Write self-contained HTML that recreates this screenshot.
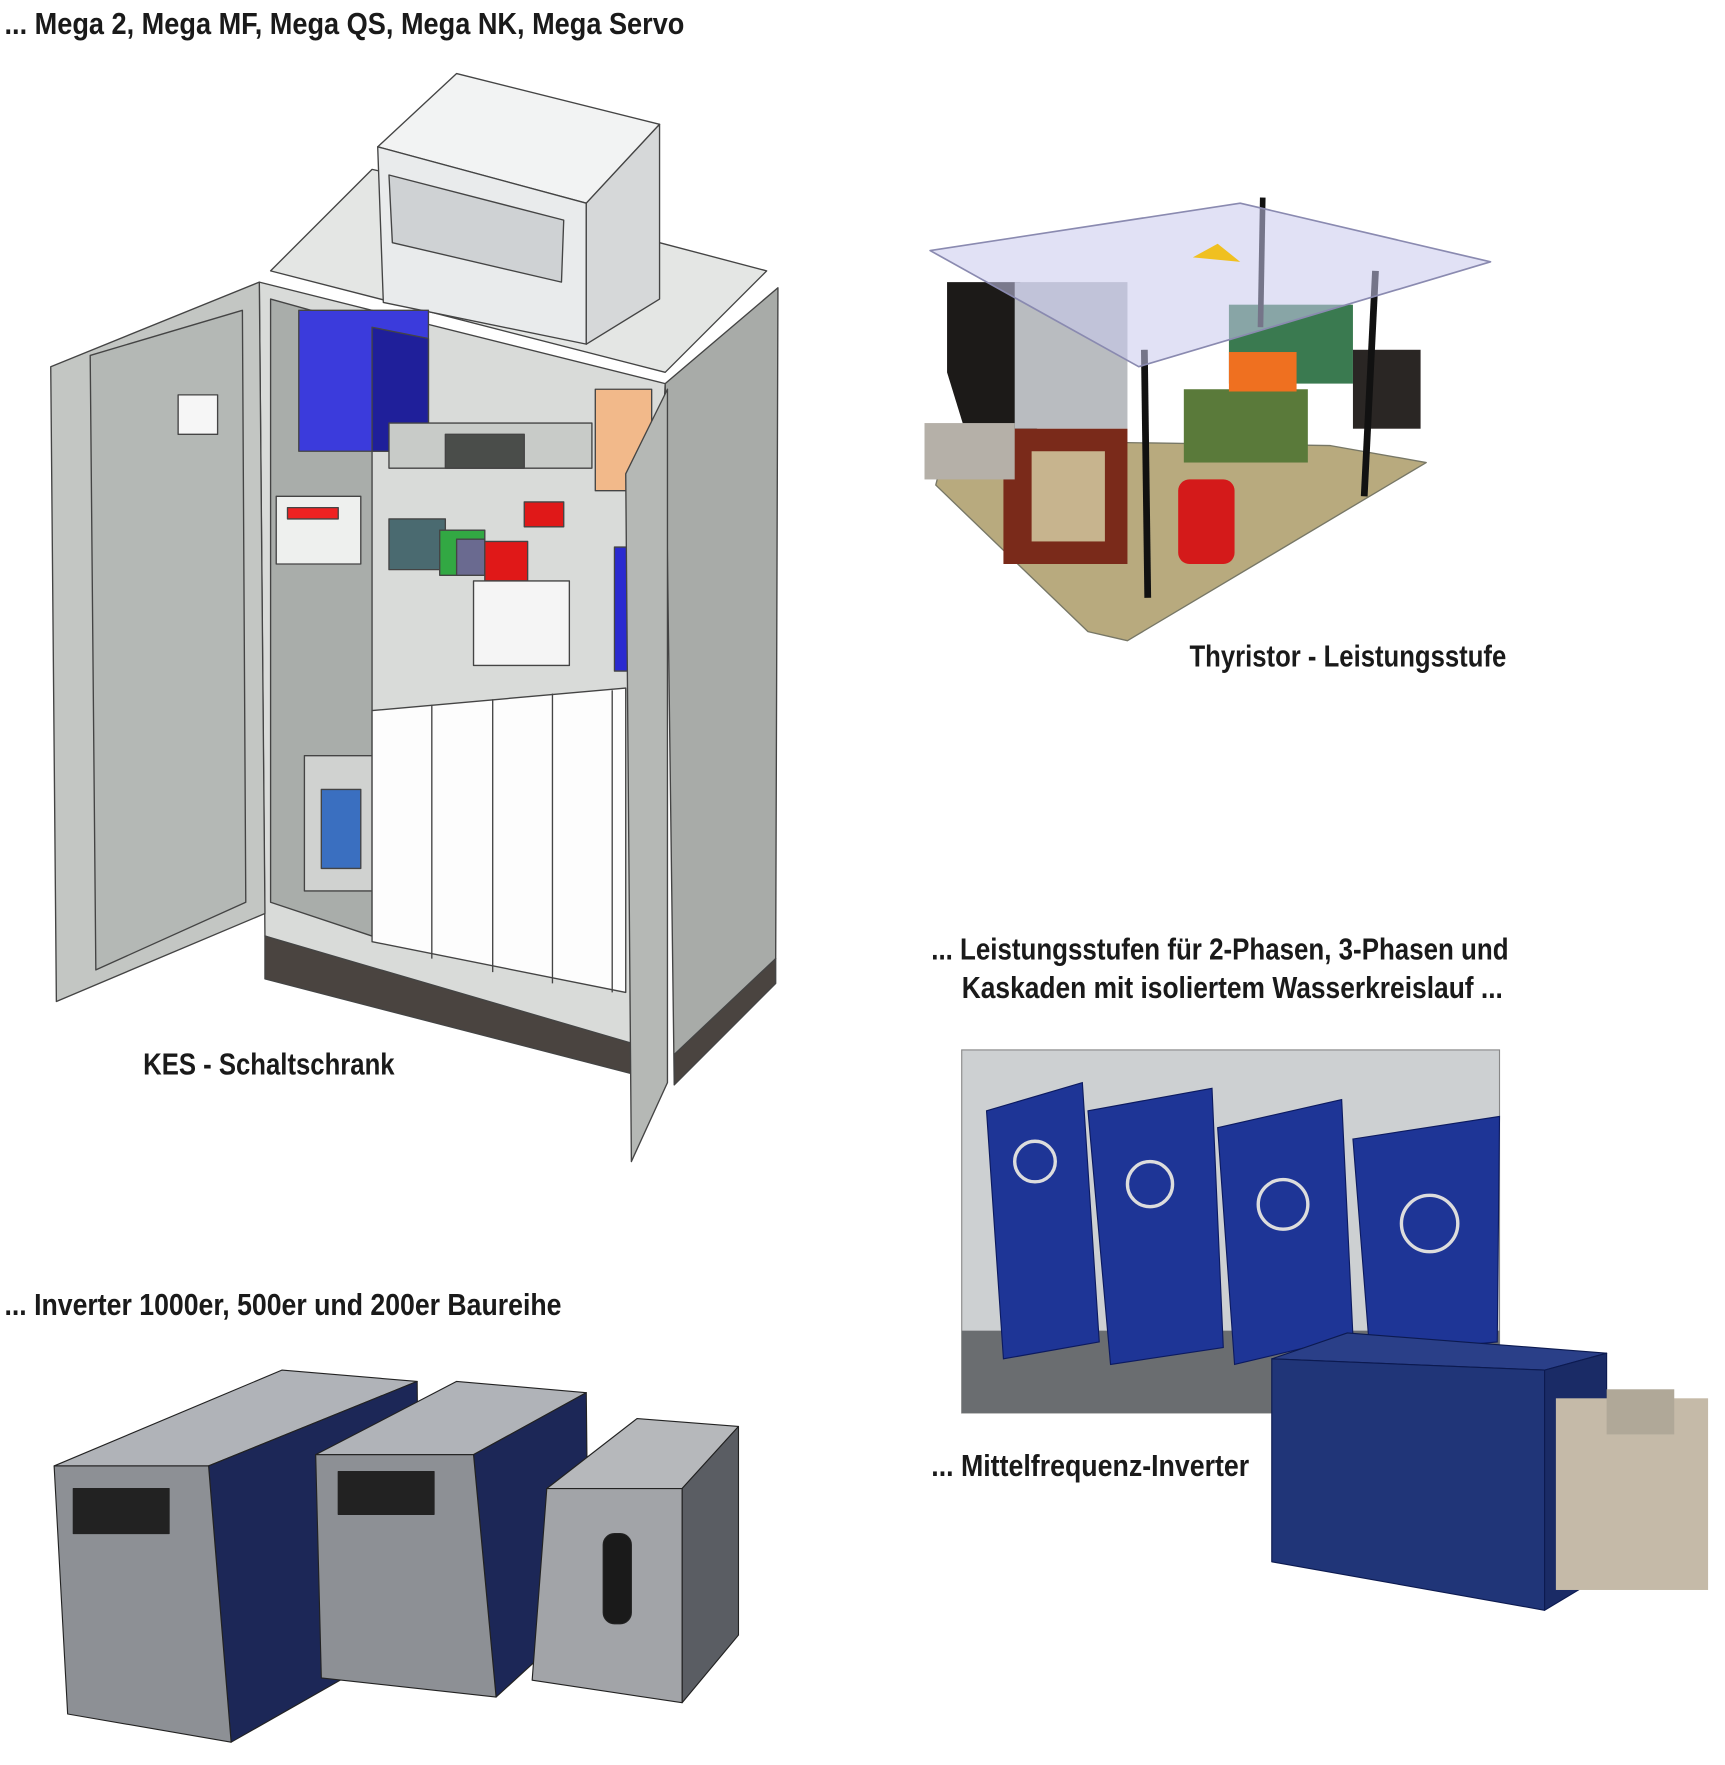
<!DOCTYPE html>
<html><head><meta charset="utf-8"><style>
html,body{margin:0;padding:0;background:#fff;}
svg{display:block;}
text{font-family:"Liberation Sans",sans-serif;font-weight:bold;fill:#1a1a1a;}
</style></head><body>
<svg width="1725" height="1765" viewBox="0 0 1530 1565" xmlns="http://www.w3.org/2000/svg">
<rect width="1530" height="1565" fill="#fff"/>

<!-- Cabinet -->
<g stroke="#444" stroke-width="1.2" stroke-linejoin="round">
  <polygon points="240,240 330,150 420,170 585,215 680,240 590,330" fill="#e4e6e4"/>
  <polygon points="230,250 590,340 560,940 235,830" fill="#d9dbd9"/>
  <polygon points="240,265 330,290 330,830 240,800" fill="#a9adaa"/>
  <polygon points="590,340 690,255 688,850 598,960" fill="#a8aba8"/>
  <polygon points="235,830 560,925 560,952 235,868" fill="#4a4440"/>
  <polygon points="598,935 688,850 688,872 598,962" fill="#4a4440"/>
  <!-- cooler -->
  <polygon points="335,130 405,65 585,110 520,180" fill="#f2f3f3"/>
  <polygon points="335,130 520,180 520,305 340,268" fill="#e9ebec"/>
  <polygon points="520,180 585,110 585,265 520,305" fill="#d6d8d9"/>
  <polygon points="345,155 500,195 498,250 348,215" fill="#cfd2d4"/>
  <!-- internal components -->
  <rect x="265" y="275" width="115" height="125" fill="#3b3bdc"/>
  <polygon points="380,300 330,290 330,400 380,400" fill="#1f1f9a"/>
  <rect x="345" y="375" width="180" height="40" fill="#c8cbc8"/>
  <rect x="395" y="385" width="70" height="30" fill="#4a4d4a"/>
  <rect x="245" y="440" width="75" height="60" fill="#eef0ee"/>
  <rect x="255" y="450" width="45" height="10" fill="#e22"/>
  <rect x="345" y="460" width="50" height="45" fill="#4a6a70"/>
  <rect x="390" y="470" width="40" height="40" fill="#32a843"/>
  <rect x="405" y="478" width="25" height="32" fill="#6a6a90"/>
  <rect x="430" y="480" width="38" height="35" fill="#e01818"/>
  <rect x="465" y="445" width="35" height="22" fill="#e01818"/>
  <rect x="420" y="515" width="85" height="75" fill="#f5f5f5"/>
  <rect x="528" y="345" width="50" height="90" fill="#f2b98a"/>
  <rect x="545" y="485" width="12" height="110" fill="#2a2ad0"/>
  <rect x="270" y="670" width="60" height="120" fill="#d0d2d0"/>
  <rect x="285" y="700" width="35" height="70" fill="#3a6fc0"/>
  <polygon points="330,630 555,610 555,880 330,835" fill="#fdfdfd"/>
  <line x1="383" y1="625" x2="383" y2="850"/>
  <line x1="437" y1="620" x2="437" y2="862"/>
  <line x1="490" y1="615" x2="490" y2="872"/>
  <line x1="543" y1="612" x2="543" y2="880"/>
  <!-- left door -->
  <polygon points="45,325 230,250 235,810 50,888" fill="#c3c6c3"/>
  <polygon points="80,315 215,275 218,800 85,860" fill="#b4b8b5"/>
  <rect x="158" y="350" width="35" height="35" fill="#f6f6f6"/>
  <!-- right door -->
  <polygon points="555,420 592,345 592,960 560,1030" fill="#b5b8b5"/>
</g>

<!-- Thyristor -->
<g stroke-linejoin="round">
  <polygon points="840,390 1180,395 1265,410 1000,568 965,560 830,430" fill="#b8aa7e" stroke="#776" stroke-width="1.2"/>
  <polygon points="840,250 905,250 920,380 860,395 840,330" fill="#1c1a18"/>
  <rect x="900" y="250" width="100" height="130" fill="#b9bcc0"/>
  <rect x="890" y="380" width="110" height="120" fill="#7a2a1a"/>
  <rect x="915" y="400" width="65" height="80" fill="#c7b48e"/>
  <rect x="1050" y="345" width="110" height="65" fill="#5a7a3a"/>
  <rect x="1090" y="270" width="110" height="70" fill="#3a7a50"/>
  <rect x="1090" y="312" width="60" height="35" fill="#ef7020"/>
  <rect x="1045" y="425" width="50" height="75" rx="10" fill="#d41a1a"/>
  <rect x="1200" y="310" width="60" height="70" fill="#2a2624"/>
  <rect x="820" y="375" width="80" height="50" fill="#b5b0a8"/>
  <line x1="1015" y1="310" x2="1018" y2="530" stroke="#111" stroke-width="6"/>
  <line x1="1220" y1="240" x2="1210" y2="440" stroke="#111" stroke-width="6"/>
  <line x1="1120" y1="175" x2="1118" y2="290" stroke="#111" stroke-width="5"/>
  <polygon points="825,222 1100,180 1322,232 1010,325" fill="#c8c8ec" fill-opacity="0.55" stroke="#8a8ab0" stroke-width="1.5"/>
  <polygon points="1058,228 1080,216 1100,232" fill="#f0c020"/>
</g>

<!-- Inverters bottom -->
<g stroke="#222" stroke-width="1" stroke-linejoin="round">
  <polygon points="48,1300 250,1215 370,1225 185,1300" fill="#b0b3b8"/>
  <polygon points="185,1300 370,1225 372,1450 205,1545" fill="#1c2757"/>
  <polygon points="48,1300 185,1300 205,1545 60,1520" fill="#8d9095"/>
  <rect x="65" y="1320" width="85" height="40" fill="#222"/>
  <polygon points="280,1290 405,1225 520,1235 420,1290" fill="#b0b3b8"/>
  <polygon points="420,1290 520,1235 522,1430 440,1505" fill="#1c2757"/>
  <polygon points="280,1290 420,1290 440,1505 285,1488" fill="#8d9095"/>
  <rect x="300" y="1305" width="85" height="38" fill="#222"/>
  <polygon points="485,1320 565,1258 655,1265 605,1320" fill="#b6b8bb"/>
  <polygon points="605,1320 655,1265 655,1450 605,1510" fill="#5a5d63"/>
  <polygon points="485,1320 605,1320 605,1510 472,1490" fill="#a2a4a8"/>
  <rect x="535" y="1360" width="25" height="80" rx="10" fill="#1a1a1a"/>
</g>

<!-- Kaskaden photo -->
<rect x="853" y="931" width="477" height="322" fill="#cdd0d2" stroke="#888"/>
<rect x="853" y="1180" width="477" height="73" fill="#6a6d70"/>
<g fill="#1e3596" stroke="#0c1a60">
  <polygon points="875,985 960,960 975,1190 890,1205"/>
  <polygon points="965,985 1075,965 1085,1195 985,1210"/>
  <polygon points="1080,1000 1190,975 1200,1185 1095,1210"/>
  <polygon points="1200,1010 1330,990 1328,1190 1215,1200"/>
</g>
<g fill="none" stroke="#ddd" stroke-width="3">
  <circle cx="918" cy="1030" r="18"/><circle cx="1020" cy="1050" r="20"/><circle cx="1138" cy="1068" r="22"/><circle cx="1268" cy="1085" r="25"/>
</g>
<!-- Mittelfrequenz box -->
<g stroke="#0c1a50" stroke-linejoin="round">
  <polygon points="1128,1205 1195,1182 1425,1200 1370,1215" fill="#2a3f88"/>
  <polygon points="1128,1205 1370,1215 1370,1428 1128,1385" fill="#203578"/>
  <polygon points="1370,1215 1425,1200 1425,1395 1370,1428" fill="#1a2b66"/>
</g>
<rect x="1380" y="1240" width="135" height="170" fill="#c5baa8"/>
<rect x="1425" y="1232" width="60" height="40" fill="#b0a898"/>

<!-- Labels -->
<text x="4" y="30" font-size="27" textLength="603" lengthAdjust="spacingAndGlyphs">... Mega 2, Mega MF, Mega QS, Mega NK, Mega Servo</text>
<text x="1055" y="591" font-size="27" textLength="281" lengthAdjust="spacingAndGlyphs">Thyristor - Leistungsstufe</text>
<text x="127" y="953" font-size="27" textLength="223" lengthAdjust="spacingAndGlyphs">KES - Schaltschrank</text>
<text x="826" y="851" font-size="27" textLength="512" lengthAdjust="spacingAndGlyphs">... Leistungsstufen für 2-Phasen, 3-Phasen und</text>
<text x="853" y="885" font-size="27" textLength="480" lengthAdjust="spacingAndGlyphs">Kaskaden mit isoliertem Wasserkreislauf ...</text>
<text x="4" y="1166" font-size="27" textLength="494" lengthAdjust="spacingAndGlyphs">... Inverter 1000er, 500er und 200er Baureihe</text>
<text x="826" y="1309" font-size="27" textLength="282" lengthAdjust="spacingAndGlyphs">... Mittelfrequenz-Inverter</text>
</svg>
</body></html>
